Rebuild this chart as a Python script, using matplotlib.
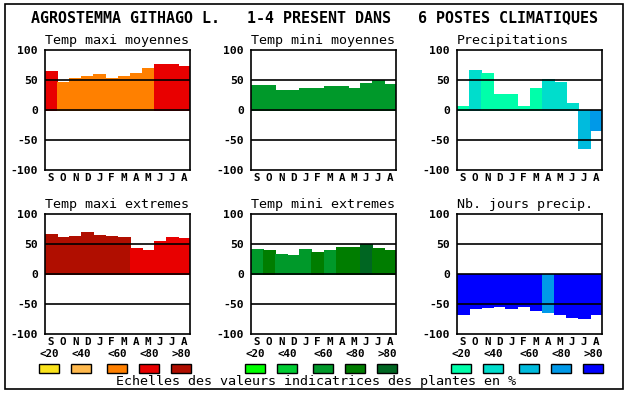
"""Climate indicator bars for one plant species, six small panels."""

import matplotlib

matplotlib.use("Agg")
import matplotlib.pyplot as plt
from matplotlib.patches import Rectangle

plt.rcParams["font.family"] = ["DejaVu Sans Mono"]

W, H = 630, 394

MONTHS = ["S", "O", "N", "D", "J", "F", "M", "A", "M", "J", "J", "A"]
CLASS_LABELS = ["<20", "<40", "<60", "<80", ">80"]

# palettes per row of the legend
PAL_TMAX = ["#fae31c", "#ffb94d", "#ff8000", "#e80000", "#b00e00"]
PAL_TMIN = ["#00ff00", "#00cc33", "#00992a", "#007d00", "#006622"]
PAL_PREC = ["#00ffaa", "#00ddcc", "#00bbdd", "#0099e8", "#0000ff"]

# values (%) and class index per month
tmax_moy = [65, 47, 53, 57, 60, 53, 57, 62, 70, 77, 77, 73]
tmax_moy_cls = [3, 2, 2, 2, 2, 2, 2, 2, 2, 3, 3, 3]

tmin_moy = [42, 42, 34, 33, 36, 37, 40, 40, 37, 45, 50, 44]
tmin_moy_cls = [2] * 12

precip = [7, 67, 62, 27, 27, 7, 37, 52, 47, 12, -63, -33]
precip_cls = [0, 1, 0, 0, 0, 0, 0, 1, 1, 1, 2, 3]

tmax_ext = [67, 62, 64, 70, 65, 64, 62, 44, 40, 55, 62, 60]
tmax_ext_cls = [4, 4, 4, 4, 4, 4, 4, 3, 3, 3, 3, 3]

tmin_ext = [42, 40, 34, 32, 42, 37, 40, 45, 45, 50, 44, 40]
tmin_ext_cls = [2, 3, 2, 2, 2, 3, 2, 3, 3, 4, 3, 3]

nb_jours = [-67, -57, -55, -54, -57, -54, -60, -64, -67, -72, -74, -67]
nb_jours_cls = [4, 4, 4, 4, 4, 4, 4, 3, 4, 4, 4, 4]

TITLE = "AGROSTEMMA GITHAGO L.   1-4 PRESENT DANS   6 POSTES CLIMATIQUES"
FOOTER = "Echelles des valeurs indicatrices des plantes en %"

panels = [
    ("Temp maxi moyennes", tmax_moy, tmax_moy_cls, PAL_TMAX),
    ("Temp mini moyennes", tmin_moy, tmin_moy_cls, PAL_TMIN),
    ("Precipitations", precip, precip_cls, PAL_PREC),
    ("Temp maxi extremes", tmax_ext, tmax_ext_cls, PAL_TMAX),
    ("Temp mini extremes", tmin_ext, tmin_ext_cls, PAL_TMIN),
    ("Nb. jours precip.", nb_jours, nb_jours_cls, PAL_PREC),
]


def fx(x):
    return x / W


def fy(y):
    return 1 - y / H


fig = plt.figure(figsize=(W / 100, H / 100), dpi=100)

# outer frame
fig.add_artist(Rectangle((fx(5), fy(389)), fx(618), (389 - 4) / H,
                         fill=False, edgecolor="black", linewidth=1.2))

fig.text(fx(31), fy(18), TITLE, ha="left", va="center",
         fontsize=10.8, fontweight="bold")

col_left = [45, 251, 457]
row_top = [50, 214]
ax_w, ax_h = 145, 120

for i, (title, vals, cls, pal) in enumerate(panels):
    r, c = divmod(i, 3)
    left, top = col_left[c], row_top[r]
    ax = fig.add_axes([fx(left), fy(top + ax_h), ax_w / W, ax_h / H])
    x = range(len(MONTHS))
    colours = [pal[k] for k in cls]
    # edge in the face colour closes the hairline seams between bars
    ax.bar(x, vals, width=1.0, color=colours, edgecolor=colours,
           linewidth=0.7, antialiased=False, zorder=2)
    for yv in (50, 0, -50):
        ax.axhline(yv, color="black", linewidth=1.2, zorder=3)
    ax.set_xlim(-0.5, 11.5)
    ax.set_ylim(-100, 100)
    ax.set_xticks(list(x))
    ax.set_xticklabels(MONTHS, fontsize=7.8, fontweight="bold")
    ax.set_yticks([-100, -50, 0, 50, 100])
    ax.set_yticklabels(["-100", "-50", "0", "50", "100"],
                       fontsize=8.2, fontweight="bold")
    ax.tick_params(length=0, pad=2, axis="x")
    ax.tick_params(length=0, pad=5, axis="y")
    for sp in ax.spines.values():
        sp.set_linewidth(1.2)
        sp.set_zorder(4)
    ax.set_title(title, loc="left", fontsize=9.6, pad=4.5)

# colour scale legends under the bottom row
swatch_dx = [39, 71, 107, 139, 171]
for g, pal in enumerate([PAL_TMAX, PAL_TMIN, PAL_PREC]):
    off = g * 206
    for k, colour in enumerate(pal):
        x0 = swatch_dx[k] + off
        fig.add_artist(Rectangle((fx(x0), fy(373)), 20 / W, 9 / H,
                                 facecolor=colour, edgecolor="black",
                                 linewidth=1.0))
        fig.text(fx(x0 + 10), fy(354), CLASS_LABELS[k], ha="center",
                 va="center", fontsize=7.8, fontweight="bold")

fig.text(fx(116), fy(382), FOOTER, ha="left", va="center", fontsize=9.6)

fig.savefig("out.png", dpi=100)
